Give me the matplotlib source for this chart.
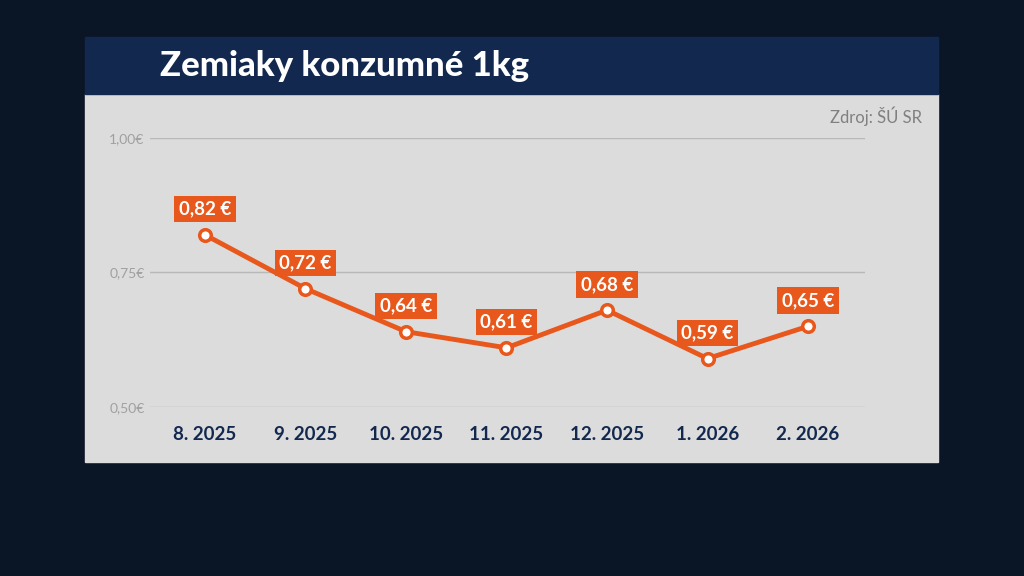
import matplotlib
matplotlib.use("Agg")
import matplotlib.pyplot as plt
from matplotlib.patches import Rectangle

months = ["8. 2025", "9. 2025", "10. 2025", "11. 2025", "12. 2025", "1. 2026", "2. 2026"]
prices = [0.82, 0.72, 0.64, 0.61, 0.68, 0.59, 0.65]
yticks = [0.50, 0.75, 1.00]
ytick_labels = ["0,50€", "0,75€", "1,00€"]
title = "Zemiaky konzumné 1kg"
source = "Zdroj: ŠÚ SR"

W, H = 1024, 576
fig = plt.figure(figsize=(W/100, H/100), dpi=100)
fig.patch.set_facecolor("#0a1526")

fig.add_artist(Rectangle((85/W, 1-462/H), 853/W, 368/H, transform=fig.transFigure, color="#dcdcdc", zorder=0))
fig.add_artist(Rectangle((85/W, 1-94/H), 853/W, 57/H, transform=fig.transFigure, color="#13284f", zorder=0))
fig.text(160/W, 1-66/H, title, color="white", fontsize=25, fontweight="black", va="center", ha="left", family="Lato")
fig.text(922/W, 1-116/H, source, color="#808080", fontsize=12, va="center", ha="right", family="Lato")

ax = fig.add_axes([150/W, 1-407/H, 715/W, 269/H])
ax.set_facecolor("none")
x = list(range(len(months)))
orange = "#e8581c"
ax.plot(x, prices, color=orange, lw=3.5, zorder=3)
ax.scatter(x, prices, s=70, facecolor="white", edgecolor=orange, linewidth=2.5, zorder=4)
for xi, p in zip(x, prices):
    ax.annotate(f"{p:.2f} €".replace(".", ","), (xi, p), xytext=(0, 18.5), textcoords="offset points",
                ha="center", va="center", color="white", fontsize=13.5, fontweight="bold", family="Lato",
                bbox=dict(boxstyle="square,pad=0.25", fc=orange, ec="none"), zorder=5)
ax.set_ylim(0.5, 1.0)
ax.set_xlim(-0.547, 6.567)
ax.set_yticks(yticks)
ax.set_yticklabels(ytick_labels, color="#a0a0a0", fontsize=10, family="Lato")
ax.set_xticks(x)
ax.set_xticklabels(months, color="#13284f", fontsize=13.5, fontweight="bold", family="Lato")
ax.tick_params(length=0, axis="y", pad=4)
ax.tick_params(length=0, axis="x", pad=14)
ax.yaxis.grid(True, color="#b8b8b8", lw=1)
ax.set_axisbelow(True)
for s in ax.spines.values():
    s.set_visible(False)

fig.savefig("out.png", dpi=100, facecolor=fig.get_facecolor())
